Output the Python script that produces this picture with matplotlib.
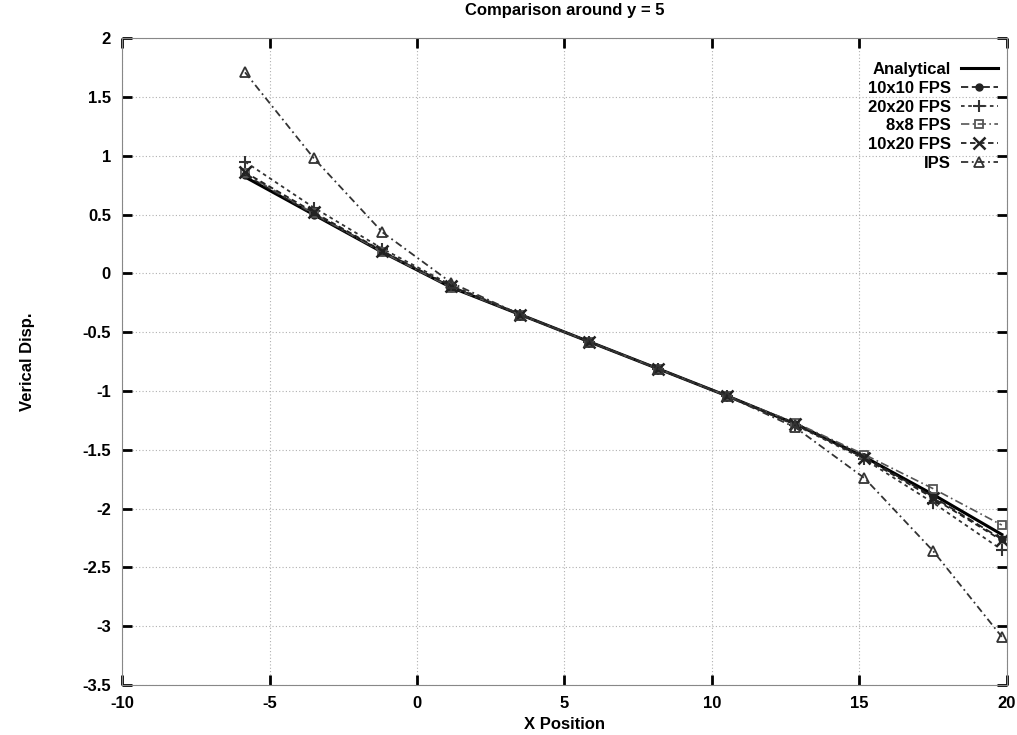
import matplotlib
matplotlib.use('Agg')
import matplotlib.pyplot as plt

# sample positions along x (cell centres)
x_pos = [-5.83, -3.50, -1.17, 1.17, 3.50, 5.83, 8.17, 10.50, 12.83, 15.17, 17.50, 19.83]

analytical = [0.82, 0.50, 0.18, -0.12, -0.35, -0.58, -0.81, -1.04, -1.28, -1.56, -1.88, -2.22]
fps_10x10 = [0.84, 0.50, 0.18, -0.12, -0.35, -0.58, -0.81, -1.04, -1.28, -1.56, -1.90, -2.26]
fps_20x20 = [0.95, 0.56, 0.21, -0.10, -0.35, -0.58, -0.81, -1.04, -1.29, -1.58, -1.95, -2.35]
fps_8x8 = [0.85, 0.51, 0.18, -0.12, -0.35, -0.58, -0.81, -1.04, -1.27, -1.54, -1.83, -2.14]
fps_10x20 = [0.86, 0.52, 0.19, -0.11, -0.35, -0.58, -0.81, -1.04, -1.28, -1.57, -1.91, -2.27]
ips = [1.71, 0.98, 0.35, -0.08, -0.35, -0.58, -0.81, -1.04, -1.31, -1.74, -2.36, -3.09]

x_ticks = [-10, -5, 0, 5, 10, 15, 20]
y_ticks = [2, 1.5, 1, 0.5, 0, -0.5, -1, -1.5, -2, -2.5, -3, -3.5]

plt.rcParams['font.family'] = ['Liberation Sans', 'DejaVu Sans']
plt.rcParams['font.weight'] = 'bold'
plt.rcParams['axes.unicode_minus'] = False

fig = plt.figure(figsize=(10.17, 7.35), dpi=100)
ax = fig.add_axes([0.120, 0.068, 0.870, 0.880])

ax.plot(x_pos, analytical, color='black', lw=2.2, label='Analytical')
ax.plot(x_pos, fps_10x10, color='#222222', lw=1.3, ls=(0, (4, 2)), marker='o', ms=5,
        mfc='#222222', label='10x10 FPS')
ax.plot(x_pos, fps_20x20, color='#333333', lw=1.3, ls=(0, (2, 2)), marker='+', ms=8,
        mew=1.5, label='20x20 FPS')
ax.plot(x_pos, fps_8x8, color='#555555', lw=1.2, ls=(0, (5, 2, 1, 2)), marker='s', ms=6,
        mfc='none', mew=1.3, label='8x8 FPS')
ax.plot(x_pos, fps_10x20, color='#222222', lw=1.3, ls=(0, (3, 2)), marker='x', ms=8,
        mew=1.8, label='10x20 FPS')
ax.plot(x_pos, ips, color='#333333', lw=1.3, ls=(0, (4, 2, 1, 2)), marker='^', ms=7,
        mfc='none', mew=1.3, label='IPS')

ax.set_xlim(-10, 20)
ax.set_ylim(-3.5, 2)
ax.set_xticks(x_ticks)
ax.set_yticks(y_ticks)
ax.set_yticklabels([f'{v:g}' for v in y_ticks])
ax.tick_params(direction='in', length=7, width=2, top=True, right=True, labelsize=12, pad=8)
ax.grid(True, color='#b0b0b0', lw=0.8, ls=(0, (1, 2)))
for s in ax.spines.values():
    s.set_color('#888888')
    s.set_linewidth(0.8)

ax.set_title('Comparison around y = 5', fontsize=12, fontweight='bold', pad=17)
ax.set_xlabel('X Position', fontsize=12, fontweight='bold', labelpad=4)
ax.set_ylabel('Verical Disp.', fontsize=12, fontweight='bold', labelpad=34)

ax.legend(loc='upper right', bbox_to_anchor=(1.003, 0.981), frameon=False,
          markerfirst=False, fontsize=12, handlelength=2.2, handletextpad=0.6,
          labelspacing=0.22, borderaxespad=0.3, alignment='right')

fig.savefig('out.png', dpi=100)
